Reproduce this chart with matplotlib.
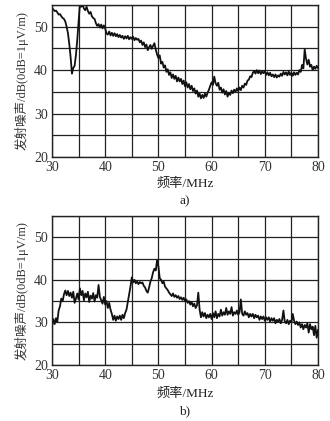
import numpy as np
import matplotlib
matplotlib.use("Agg")
import matplotlib.pyplot as plt
from matplotlib.ticker import MultipleLocator

freq_start, freq_stop, freq_step = 30.0, 80.0, 0.25

# panel a) emission noise, dB, every 0.25 MHz from 30 to 80 MHz
noise_a = [54.3, 54.0, 53.6, 53.7, 53.3, 52.8, 52.9, 52.4, 52.0, 51.8,   # 30.00-32.25
           51.2, 50.0, 48.5, 46.0, 43.0, 39.2, 40.5, 41.0, 43.5, 47.0,   # 32.50-34.75
           51.0, 55.3, 54.6, 55.0, 54.2, 53.8, 54.6, 53.6, 53.0, 53.4,   # 35.00-37.25
           52.4, 52.0, 51.8, 50.8, 50.2, 50.6, 49.8, 50.5, 49.6, 50.3,   # 37.50-39.75
           49.6, 48.4, 48.2, 48.9, 48.0, 48.6, 47.9, 48.5, 47.8, 48.3,   # 40.00-42.25
           47.6, 48.1, 47.5, 47.9, 47.2, 47.8, 47.3, 47.9, 47.1, 47.6,   # 42.50-44.75
           47.2, 47.7, 46.9, 47.4, 47.0, 47.2, 46.4, 46.8, 45.8, 46.4,   # 45.00-47.25
           45.3, 45.9, 44.6, 45.3, 45.8, 44.9, 45.6, 46.2, 44.8, 43.6,   # 47.50-49.75
           42.8, 43.4, 41.5, 41.9, 40.6, 41.1, 39.6, 40.2, 38.9, 39.5,   # 50.00-52.25
           38.2, 39.0, 38.0, 38.7, 37.4, 38.3, 37.4, 38.0, 36.8, 37.6,   # 52.50-54.75
           36.3, 37.2, 36.0, 36.8, 35.6, 36.4, 35.2, 35.8, 34.6, 35.3,   # 55.00-57.25
           33.9, 34.6, 33.5, 34.3, 33.6, 34.6, 33.9, 34.8, 35.5, 36.4,   # 57.50-59.75
           37.2, 36.6, 38.5, 37.0, 36.4, 37.1, 35.5, 36.0, 34.8, 35.6,   # 60.00-62.25
           34.4, 35.2, 33.9, 34.8, 34.3, 35.3, 34.7, 35.5, 35.0, 35.8,   # 62.50-64.75
           35.2, 36.0, 35.4, 36.4, 36.0, 36.9, 36.6, 37.6, 37.8, 38.6,   # 65.00-67.25
           38.4, 39.4, 39.8, 39.2, 40.0, 39.3, 39.9, 39.1, 39.7, 39.3,   # 67.50-69.75
           39.8, 38.9, 39.5, 38.8, 39.4, 38.6, 39.0, 38.4, 39.0, 38.3,   # 70.00-72.25
           38.8, 38.5, 39.2, 38.7, 39.6, 39.0, 39.5, 38.8, 39.7, 38.9,   # 72.50-74.75
           39.4, 38.7, 39.5, 38.9, 39.4, 39.0, 40.0, 39.6, 41.2, 40.4,   # 75.00-77.25
           44.8, 42.6, 41.3, 42.4, 40.8, 41.2, 40.0, 40.8, 40.3, 41.0,   # 77.50-79.75
           40.5]                                                          # 80.00

# panel b) emission noise, dB, every 0.25 MHz from 30 to 80 MHz
noise_b = [29.2, 30.8, 29.6, 31.0, 30.2, 32.8, 33.8, 35.6, 35.0, 36.6,
           37.5, 36.4, 37.4, 36.2, 37.0, 35.8, 37.2, 34.6, 35.6, 36.8,
           35.4, 38.0, 36.4, 37.4, 35.2, 36.8, 35.9, 37.2, 34.8, 36.3,
           35.6, 36.9, 34.9, 36.4, 35.8, 38.8, 36.0, 35.2, 34.4, 36.0,
           34.2, 35.0, 33.4, 34.6, 33.0, 32.0, 30.6, 31.6, 30.4, 31.4,
           30.8, 31.6, 30.6, 31.8, 31.0, 32.2, 33.0, 34.8, 36.6, 38.4,
           40.6, 39.4, 40.0, 39.2, 39.6, 39.0, 39.5, 39.2, 39.4, 38.6,
           38.2, 37.4, 37.0, 38.2, 39.6, 40.4, 41.8, 42.6, 42.2, 44.6,
           43.2, 40.4, 40.0, 39.2, 39.6, 38.4, 38.0, 37.6, 37.0, 36.6,
           36.2, 36.8, 36.0, 36.4, 35.8, 36.2, 35.5, 35.9, 35.3, 35.8,
           35.0, 35.4, 34.6, 35.0, 34.2, 34.8, 33.8, 34.4, 33.4, 34.0,
           37.0, 33.0, 31.2, 32.4, 31.4, 32.2, 31.0, 31.8, 31.2, 32.0,
           30.8, 32.2, 31.2, 32.6, 31.0, 32.0, 31.4, 33.0, 31.6, 32.4,
           31.8, 33.4, 31.8, 32.6, 32.0, 33.6, 31.6, 32.4, 32.0, 32.8,
           31.8, 32.4, 35.4, 32.0, 31.6, 32.6, 31.8, 32.2, 31.2, 32.0,
           31.4, 32.0, 31.0, 31.8, 31.2, 31.6, 30.6, 31.4, 30.8, 31.4,
           30.4, 31.2, 30.6, 31.2, 30.2, 31.0, 30.4, 31.0, 29.8, 30.6,
           30.2, 30.8, 29.8, 30.6, 32.8, 30.2, 29.8, 30.6, 29.6, 30.4,
           30.0, 32.0, 30.4, 29.6, 30.2, 29.4, 30.0, 28.8, 29.6, 28.4,
           29.4, 28.8, 29.8, 27.6, 29.6, 28.4, 29.0, 27.0, 29.2, 26.4,
           28.2]

x_ticks = [30, 40, 50, 60, 70, 80]
y_ticks = [20, 30, 40, 50]
ylabel = "发射噪声/dB(0dB=1μV/m)"
xlabel = "频率/MHz"
panel_labels = ["a)", "b)"]

freq = np.linspace(freq_start, freq_stop, len(noise_a))
assert len(noise_a) == len(noise_b) == 201

serif = ["Liberation Serif", "Noto Sans CJK SC", "DejaVu Sans"]
plt.rcParams["font.family"] = serif

W, H = 330, 421
fig = plt.figure(figsize=(W / 100, H / 100), dpi=100)

def add_panel(series, top_px, bottom_px, label, label_y_px, panel_y_px):
    left_px, right_px = 52, 318
    ax = fig.add_axes([left_px / W, 1 - bottom_px / H,
                       (right_px - left_px) / W, (bottom_px - top_px) / H])
    ax.plot(freq, series, color="#111111", lw=1.3)
    ax.set_xlim(30, 80)
    ax.set_ylim(20, 55)
    ax.set_xticks(x_ticks)
    ax.set_yticks(y_ticks)
    ax.xaxis.set_minor_locator(MultipleLocator(5))
    ax.yaxis.set_minor_locator(MultipleLocator(5))
    ax.grid(which="both", color="#222222", lw=0.9)
    ax.tick_params(which="both", length=0, labelsize=10, colors="#333333", pad=3)
    for s in ax.spines.values():
        s.set_color("#222222")
        s.set_linewidth(1.0)
    ax.set_ylabel(ylabel, fontsize=9, color="#333333", labelpad=4)
    fig.text(185 / W, 1 - label_y_px / H, xlabel, ha="center", va="center",
             fontsize=9.5, color="#222222")
    fig.text(185 / W, 1 - panel_y_px / H, label, ha="center", va="center",
             fontsize=9.5, color="#222222")
    return ax

add_panel(noise_a, 5, 157, panel_labels[0], 184, 201)
add_panel(noise_b, 216, 365, panel_labels[1], 394, 411)

fig.savefig("out.png", dpi=100, facecolor="white")
